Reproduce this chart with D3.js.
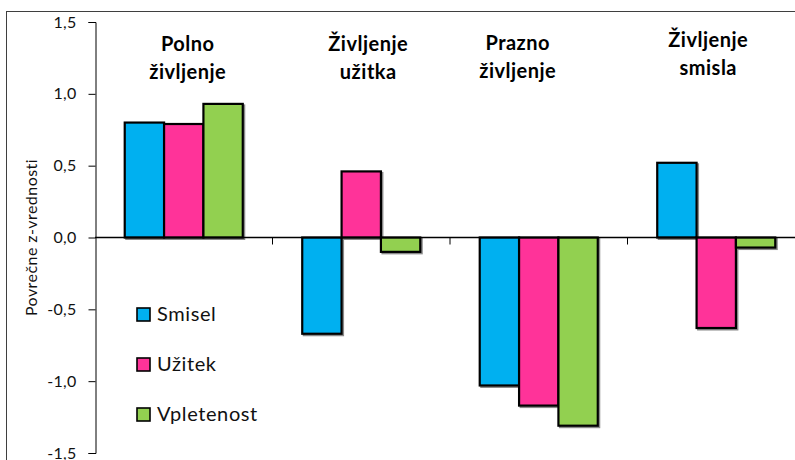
<!DOCTYPE html>
<html>
<head>
<meta charset="utf-8">
<script src="https://cdn.jsdelivr.net/npm/d3@7"></script>
<style>
  html, body { margin: 0; padding: 0; background: #fff; }
  svg { display: block; font-family: Lato, "Open Sans", sans-serif; }
</style>
</head>
<body>
<svg id="chart" width="795" height="460"></svg>
<script>
// Profile groups and the three component scores (mean z-values)
const categories = ["Polno življenje", "Življenje užitka", "Prazno življenje", "Življenje smisla"];
const categoryLines = [["Polno", "življenje"], ["Življenje", "užitka"], ["Prazno", "življenje"], ["Življenje", "smisla"]];
const seriesNames = ["Smisel", "Užitek", "Vpletenost"];
const smisel = [0.80, -0.67, -1.03, 0.52];
const uzitek = [0.79, 0.46, -1.17, -0.63];
const vpletenost = [0.93, -0.10, -1.31, -0.07];
const yTicks = [-1.5, -1.0, -0.5, 0.0, 0.5, 1.0, 1.5];
const yTitle = "Povrečne z-vrednosti";

const seriesValues = [smisel, uzitek, vpletenost];
const colors = ["#00b0f0", "#ff3399", "#92d050"];

// Layout
const svg = d3.select("#chart");
const axisX = 95;
const plotRight = 805;
const y = d3.scaleLinear().domain([-1.5, 1.5]).range([453, 22]);
const x0 = d3.scaleBand().domain(categories).range([axisX, plotRight])
  .paddingInner(0.335).paddingOuter(0.1675);
const x1 = d3.scaleBand().domain(seriesNames).range([0, x0.bandwidth()]).padding(0);

// Small hand placement of the group headings
const headingNudge = [[4, 0], [7, 0], [-21, -1], [-8, -4]];

// Outer chart frame (only top and left edges are visible)
svg.append("rect")
  .attr("x", 6.5).attr("y", 11.5).attr("width", 900).attr("height", 600)
  .attr("fill", "none").attr("stroke", "#3f3f3f").attr("stroke-width", 1);

// Y axis
const yAxis = d3.axisLeft(y).tickValues(yTicks).tickSize(7).tickPadding(12)
  .tickFormat(d => d3.format(".1f")(d).replace(".", ",").replace("−", "-"));
const gy = svg.append("g").attr("transform", `translate(${axisX + 0.5},0)`).call(yAxis);
gy.select(".domain").attr("stroke", "#000").attr("stroke-width", 1);
gy.selectAll(".tick line").attr("stroke", "#000");
gy.selectAll(".tick text").attr("fill", "#111").style("font-size", "16px")
  .style("letter-spacing", "0.3px")
  .style("font-family", "Lato, sans-serif");

// Y axis title
svg.append("text")
  .attr("transform", `translate(37,${y(0)}) rotate(-90)`)
  .attr("text-anchor", "middle")
  .style("font-size", "16px").style("letter-spacing", "0.45px").attr("fill", "#111")
  .text(yTitle);

// Bars
const groups = svg.append("g").selectAll("g")
  .data(categories).join("g")
  .attr("transform", d => `translate(${x0(d)},0)`);

const barData = (cat, ci) => seriesNames.map((s, si) => ({ s, si, v: seriesValues[si][ci] }));

// soft shadow behind each bar
groups.selectAll("rect.shadow")
  .data((d, i) => barData(d, i)).join("rect")
  .attr("class", "shadow")
  .attr("x", d => x1(d.s) + 1.5)
  .attr("y", d => Math.min(y(d.v), y(0)) + 1.5)
  .attr("width", x1.bandwidth())
  .attr("height", d => Math.abs(y(d.v) - y(0)))
  .attr("fill", "none").attr("stroke", "#8a8a8a").attr("stroke-width", 2);

groups.selectAll("rect.bar")
  .data((d, i) => barData(d, i)).join("rect")
  .attr("class", "bar")
  .attr("x", d => x1(d.s))
  .attr("y", d => Math.min(y(d.v), y(0)))
  .attr("width", x1.bandwidth())
  .attr("height", d => Math.abs(y(d.v) - y(0)))
  .attr("fill", d => colors[d.si])
  .attr("stroke", "#000").attr("stroke-width", 2.2);

// Zero line and category separators
svg.append("line")
  .attr("x1", axisX).attr("x2", 795).attr("y1", y(0)).attr("y2", y(0))
  .attr("stroke", "#000").attr("stroke-width", 1.3);
const bounds = categories.slice(1).map(c => x0(c) - x0.step() * x0.paddingInner() / 2);
svg.append("g").selectAll("line").data(bounds).join("line")
  .attr("x1", d => d).attr("x2", d => d)
  .attr("y1", y(0)).attr("y2", y(0) + 7)
  .attr("stroke", "#000").attr("stroke-width", 1);

// Group headings
svg.append("g").selectAll("text")
  .data(categories).join("text")
  .attr("text-anchor", "middle")
  .attr("x", (d, i) => x0(d) + x0.bandwidth() / 2 + headingNudge[i][0])
  .attr("y", (d, i) => 51 + headingNudge[i][1])
  .style("font-size", "20px").style("font-weight", "bold")
  .style("letter-spacing", "0.5px").attr("fill", "#000")
  .selectAll("tspan")
  .data((d, i) => categoryLines[i]).join("tspan")
  .attr("x", function() { return this.parentNode.getAttribute("x"); })
  .attr("dy", (d, j) => j === 0 ? 0 : 28)
  .text(d => d);

// Legend
const legend = svg.append("g").attr("transform", "translate(137,308)");
const items = legend.selectAll("g").data(seriesNames).join("g")
  .attr("transform", (d, i) => `translate(0,${i * 50})`);
items.append("rect")
  .attr("width", 13).attr("height", 13)
  .attr("fill", (d, i) => colors[i]).attr("stroke", "#000").attr("stroke-width", 1.6);
items.append("text")
  .attr("x", 20).attr("y", 13)
  .style("font-size", "20px").style("letter-spacing", "0.6px").attr("fill", "#111")
  .text(d => d);
</script>
</body>
</html>
